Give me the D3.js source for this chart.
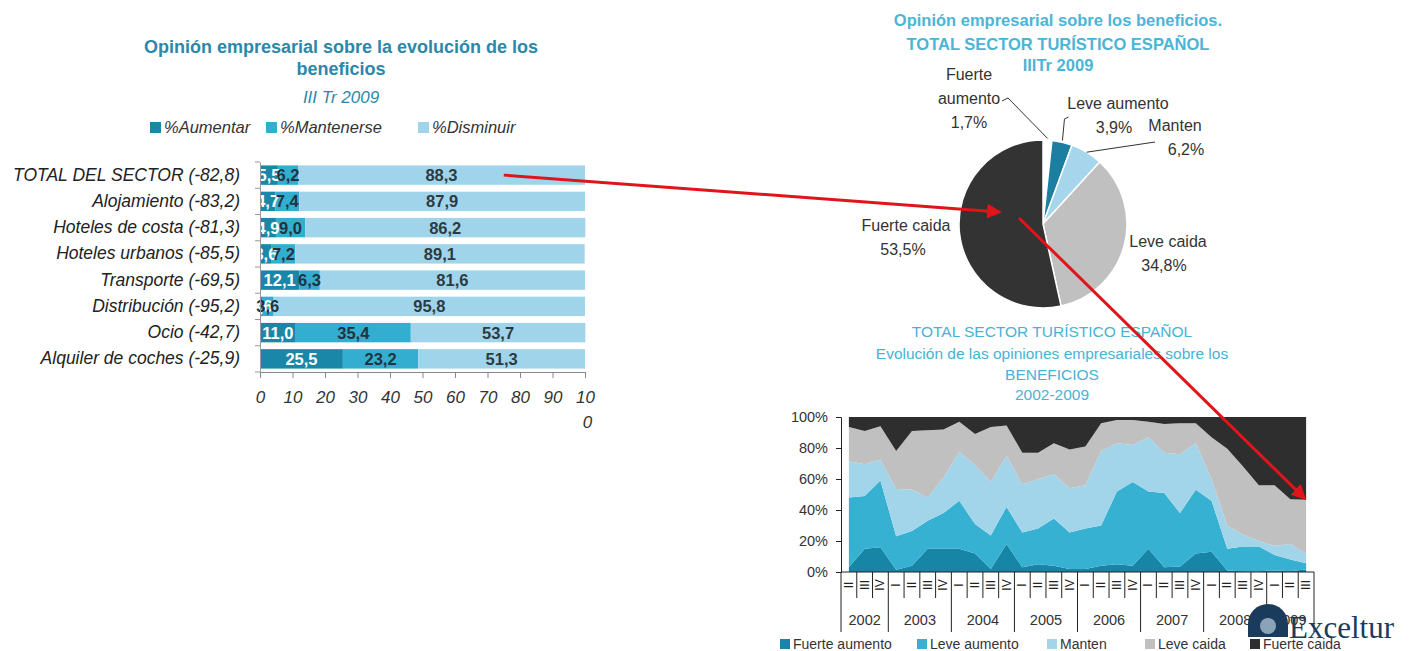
<!DOCTYPE html>
<html>
<head>
<meta charset="utf-8">
<script src="https://cdn.jsdelivr.net/npm/d3@7"></script>
<style>
  body { margin: 0; background: #fff; }
  svg { font-family: "Liberation Sans", Arial, sans-serif; }
</style>
</head>
<body>
<svg id="chart" width="1416" height="651"></svg>
<script>
// ---- bar chart data (III Tr 2009)
var sectores = ["TOTAL DEL SECTOR (-82,8)", "Alojamiento (-83,2)", "Hoteles de costa (-81,3)",
                "Hoteles urbanos (-85,5)", "Transporte (-69,5)", "Distribución (-95,2)",
                "Ocio (-42,7)", "Alquiler de coches (-25,9)"];
var aumentar   = [5.5, 4.7, 4.9, 3.6, 12.1, 0.6, 11.0, 25.5];
var mantenerse = [6.2, 7.4, 9.0, 7.2, 6.3, 3.6, 35.4, 23.2];
var disminuir  = [88.3, 87.9, 86.2, 89.1, 81.6, 95.8, 53.7, 51.3];
var barSeries  = ["%Aumentar", "%Mantenerse", "%Disminuir"];
var barTicks   = [0, 10, 20, 30, 40, 50, 60, 70, 80, 90, 100];

// ---- pie data
var pieLabels = ["Fuerte aumento", "Leve aumento", "Manten", "Leve caida", "Fuerte caida"];
var pieValues = [1.7, 3.9, 6.2, 34.8, 53.5];

// ---- area chart data, 2002 II .. 2009 III
var years    = ["2002", "2003", "2004", "2005", "2006", "2007", "2008", "2009"];
var quarters = ["II", "III", "IV",
                "I", "II", "III", "IV",  "I", "II", "III", "IV",  "I", "II", "III", "IV",
                "I", "II", "III", "IV",  "I", "II", "III", "IV",  "I", "II", "III", "IV",
                "I", "II", "III"];
var fuerteAumento = [3, 15, 16, 1.5, 4, 15, 15, 15, 12, 2, 18, 3, 5, 4, 2,
                     2, 4, 5, 4, 15, 3, 3.5, 12, 13, 1, 0.5, 0.5, 1, 0.5, 1.7];
var leveAumento   = [45, 34, 43, 21.5, 22.5, 18, 23, 31, 19, 21.5, 24, 22.5, 23, 30.5, 23.5,
                     26, 26, 47, 54, 37, 48, 34.5, 41, 33, 14, 16, 16, 10, 7.5, 3.9];
var manten        = [23.5, 20.5, 13.5, 30.5, 26.5, 15, 23, 31.5, 38, 34.5, 33, 31, 32, 28.5, 28.5,
                     28, 48, 31, 24, 35, 26, 38, 30, 14, 15, 7.5, 3.5, 6, 10, 6.2];
var leveCaida     = [22, 21.5, 21.5, 24.5, 38, 43.5, 31, 19.5, 20, 35.5, 19.5, 20.5, 17, 20, 25,
                     25, 18, 15, 16, 10, 18.5, 20, 13, 27, 49.5, 44, 36, 39, 29, 34.8];
var fuerteCaida   = [6.5, 9, 6, 22, 9, 8.5, 8, 3, 11, 6.5, 5.5, 23, 23, 17, 21,
                     19, 4, 2, 2, 3, 4.5, 4, 4, 13, 20.5, 32, 44, 44, 53, 53.5];
var areaTicks = [0, 0.2, 0.4, 0.6, 0.8, 1];

var svg = d3.select("#chart");
var comma = function(v) { return d3.format(".1f")(v).replace(".", ","); };

svg.append("defs").append("marker")
    .attr("id", "head").attr("viewBox", "0 0 10 10")
    .attr("refX", 8).attr("refY", 5)
    .attr("markerWidth", 5).attr("markerHeight", 5)
    .attr("orient", "auto")
  .append("path").attr("d", "M0,0L10,5L0,10z").attr("fill", "#e0141a");

// ================= bar chart =================
var titleCol = "#2b88aa";
var bt = svg.append("g").attr("fill", titleCol).attr("text-anchor", "middle");
bt.append("text").attr("x", 341).attr("y", 53).attr("font-size", 18).attr("font-weight", "bold")
  .text("Opinión empresarial sobre la evolución de los");
bt.append("text").attr("x", 341).attr("y", 75).attr("font-size", 18).attr("font-weight", "bold")
  .text("beneficios");
bt.append("text").attr("x", 341).attr("y", 103).attr("font-size", 17).attr("font-style", "italic")
  .text("III Tr 2009");

var barCol = d3.scaleOrdinal().domain(barSeries).range(["#1a86a8", "#34aed0", "#a0d4eb"]);
var legX = [150, 266, 418];
var leg = svg.append("g").selectAll("g").data(barSeries).join("g")
    .attr("transform", function(d, i) { return "translate(" + legX[i] + ",122)"; });
leg.append("rect").attr("width", 11).attr("height", 11).attr("fill", function(d) { return barCol(d); });
leg.append("text").attr("x", 14).attr("y", 11).attr("font-size", 16.5).attr("font-style", "italic")
  .attr("fill", "#333").text(function(d) { return d; });

var x = d3.scaleLinear().domain([0, 100]).range([260, 585]);
var y = d3.scaleBand().domain(sectores).range([162, 372]).paddingInner(0.26).paddingOuter(0.13);

var rows = sectores.map(function(s, i) {
  return { sector: s, "%Aumentar": aumentar[i], "%Mantenerse": mantenerse[i], "%Disminuir": disminuir[i] };
});
var stacked = d3.stack().keys(barSeries)(rows);

var layers = svg.append("g").selectAll("g").data(stacked).join("g")
    .attr("fill", function(d) { return barCol(d.key); });
layers.selectAll("rect").data(function(d) { return d; }).join("rect")
    .attr("x", function(d) { return x(d[0]); })
    .attr("y", function(d) { return y(d.data.sector); })
    .attr("width", function(d) { return x(d[1]) - x(d[0]); })
    .attr("height", y.bandwidth());

var labCol = { "%Aumentar": "#ffffff", "%Mantenerse": "#1f3440", "%Disminuir": "#2d3a40" };
stacked.forEach(function(layer) {
  svg.append("g").selectAll("text").data(layer).join("text")
      .attr("x", function(d) { return x((d[0] + d[1]) / 2); })
      .attr("y", function(d) { return y(d.data.sector) + y.bandwidth() / 2 + 6; })
      .attr("text-anchor", "middle").attr("font-size", 16.5).attr("font-weight", "bold")
      .attr("fill", labCol[layer.key])
      .text(function(d) { return comma(d[1] - d[0]); });
});

var yAx = svg.append("g").attr("transform", "translate(260,0)")
    .call(d3.axisLeft(y).tickSize(0).tickPadding(20));
yAx.select(".domain").attr("stroke", "#999");
yAx.selectAll(".tick text").attr("font-size", 17.5).attr("font-style", "italic").attr("fill", "#222");
// category separators
svg.append("g").selectAll("line").data(sectores.concat([null])).join("line")
    .attr("x1", 255).attr("x2", 260)
    .attr("y1", function(d, i) { return 162 + i * y.step(); })
    .attr("y2", function(d, i) { return 162 + i * y.step(); })
    .attr("stroke", "#999");

var xAx = svg.append("g").attr("transform", "translate(0,372)")
    .call(d3.axisBottom(x).tickValues(barTicks).tickSize(6).tickSizeOuter(6).tickPadding(13));
xAx.selectAll("line, .domain").attr("stroke", "#888");
xAx.selectAll(".tick text").attr("font-size", 17).attr("font-style", "italic").attr("fill", "#333")
    .each(function(d) {
      if (d === 100) {
        var t = d3.select(this).text("");
        t.append("tspan").attr("x", 0).text("10");
        t.append("tspan").attr("x", 2).attr("dy", "1.45em").text("0");
      }
    });

// ================= pie =================
var pieTitleCol = "#4cb5d6";
var pt = svg.append("g").attr("fill", pieTitleCol).attr("text-anchor", "middle")
    .attr("font-size", 16.5).attr("font-weight", "bold");
pt.append("text").attr("x", 1058).attr("y", 26).text("Opinión empresarial sobre los beneficios.");
pt.append("text").attr("x", 1058).attr("y", 50).text("TOTAL SECTOR TURÍSTICO ESPAÑOL");
pt.append("text").attr("x", 1058).attr("y", 71).text("IIITr 2009");

var cx = 1043, cy = 224, r = 84;
var pieCol = d3.scaleOrdinal().domain(pieLabels)
    .range(["#ffffff", "#1c7fa2", "#a6d6ec", "#c0c0c0", "#333333"]);
var arcs = d3.pie().sort(null)(pieValues);
var arc = d3.arc().innerRadius(0).outerRadius(r);
var pg = svg.append("g").attr("transform", "translate(" + cx + "," + cy + ")");
pg.selectAll("path").data(arcs).join("path")
    .attr("d", arc)
    .attr("fill", function(d, i) { return pieCol(pieLabels[i]); })
    .attr("stroke", "#fff").attr("stroke-width", 1.5);

// label placement (relative to pie centre): first line centre, shift of the value line
var labPos = [[-74, -144, 0], [75, -115, -4], [132, -93, 11], [125, 23, -4], [-137, 7, -3]];
var labLines = [["Fuerte", "aumento", "1,7%"], ["Leve aumento", "3,9%"], ["Manten", "6,2%"],
                ["Leve caida", "34,8%"], ["Fuerte caida", "53,5%"]];
var lg = pg.append("g").attr("font-size", 16).attr("fill", "#333").attr("text-anchor", "middle");
arcs.forEach(function(a, i) {
  var t = lg.append("text").attr("y", labPos[i][1]);
  labLines[i].forEach(function(s, k) {
    var last = k === labLines[i].length - 1 && k > 0;
    t.append("tspan").attr("x", labPos[i][0] + (last ? labPos[i][2] : 0))
      .attr("dy", k === 0 ? 0 : "1.5em").text(s);
  });
});
var edge = function(a, k) {
  var m = (a.startAngle + a.endAngle) / 2;
  return [Math.sin(m) * r * k, -Math.cos(m) * r * k];
};
var e0 = edge(arcs[0], 1.02), e1 = edge(arcs[1], 1.02), e2 = edge(arcs[2], 1.0);
var lead = pg.append("g").attr("fill", "none").attr("stroke", "#333");
lead.append("path").attr("d", "M-41,-123L-35,-126L" + e0[0] + "," + e0[1]);
lead.append("path").attr("d", "M" + (e1[0] + 6) + ",-107L" + (e1[0] + 2) + ",-105L" + e1[0] + "," + e1[1]);
lead.append("path").attr("d", "M" + e2[0] + "," + e2[1] + "L112,-82");

// ================= area chart =================
var at = svg.append("g").attr("fill", "#48b2d4").attr("text-anchor", "middle").attr("font-size", 15.5);
at.append("text").attr("x", 1052).attr("y", 337).text("TOTAL SECTOR TURÍSTICO ESPAÑOL");
at.append("text").attr("x", 1052).attr("y", 359).text("Evolución de las opiniones empresariales sobre los");
at.append("text").attr("x", 1052).attr("y", 380).text("BENEFICIOS");
at.append("text").attr("x", 1052).attr("y", 400).text("2002-2009");

var areaKeys = ["Fuerte aumento", "Leve aumento", "Manten", "Leve caida", "Fuerte caida"];
var areaCol = d3.scaleOrdinal().domain(areaKeys)
    .range(["#1786a6", "#36b1d2", "#a3d5ea", "#c0c0c0", "#2e2e2e"]);
var periods = quarters.map(function(q, i) {
  return { i: i, "Fuerte aumento": fuerteAumento[i], "Leve aumento": leveAumento[i],
           "Manten": manten[i], "Leve caida": leveCaida[i], "Fuerte caida": fuerteCaida[i] };
});
var aStack = d3.stack().keys(areaKeys).offset(d3.stackOffsetExpand)(periods);

var xb = d3.scaleBand().domain(d3.range(quarters.length)).range([841, 1314]);
var ya = d3.scaleLinear().domain([0, 1]).range([572, 417]);
var area = d3.area()
    .x(function(d) { return xb(d.data.i) + xb.bandwidth() / 2; })
    .y0(function(d) { return ya(d[0]); })
    .y1(function(d) { return ya(d[1]); });
svg.append("g").selectAll("path").data(aStack).join("path")
    .attr("d", area).attr("fill", function(d) { return areaCol(d.key); });

var yaAx = svg.append("g").attr("transform", "translate(841,0)")
    .call(d3.axisLeft(ya).tickValues(areaTicks).tickFormat(d3.format(".0%"))
      .tickSize(5).tickSizeOuter(5).tickPadding(8));
yaAx.selectAll("line, .domain").attr("stroke", "#222");
yaAx.selectAll(".tick text").attr("font-size", 14.5).attr("fill", "#333");

// category axis: quarters and years
var ca = svg.append("g");
ca.append("line").attr("x1", 841).attr("x2", 1314).attr("y1", 572).attr("y2", 572).attr("stroke", "#222");
var yearStart = quarters.map(function(q, i) { return q === "I" || i === 0; });
ca.selectAll("line.q").data(d3.range(quarters.length + 1)).join("line").attr("class", "q")
    .attr("x1", function(i) { return 841 + i * xb.step(); })
    .attr("x2", function(i) { return 841 + i * xb.step(); })
    .attr("y1", 572)
    .attr("y2", function(i) { return (i === quarters.length || yearStart[i]) ? 632 : 598; })
    .attr("stroke", "#222");
ca.selectAll("text.q").data(quarters).join("text").attr("class", "q")
    .attr("transform", function(q, i) {
      return "translate(" + (xb(i) + xb.bandwidth() / 2 + 4) + ",585) rotate(-90)";
    })
    .attr("text-anchor", "middle").attr("font-size", 12).attr("fill", "#222")
    .text(function(q) { return q; });
var starts = [];
quarters.forEach(function(q, i) { if (yearStart[i]) starts.push(i); });
ca.selectAll("text.y").data(years).join("text").attr("class", "y")
    .attr("x", function(yr, k) {
      var a = starts[k], b = k + 1 < starts.length ? starts[k + 1] : quarters.length;
      return 841 + (a + b) / 2 * xb.step();
    })
    .attr("y", 625).attr("text-anchor", "middle").attr("font-size", 14.5).attr("fill", "#333")
    .text(function(yr) { return yr; });

// Exceltur mark (drawn under the legend)
var lo = svg.append("g");
lo.append("path").attr("d", "M1248,637L1248,624A20,20 0 0 1 1288,624L1288,637Z").attr("fill", "#1b3b5d");
lo.append("circle").attr("cx", 1268).attr("cy", 626).attr("r", 8).attr("fill", "#8aa3b8");
lo.append("text").attr("x", 1289).attr("y", 638).attr("font-family", "'Liberation Serif', serif")
    .attr("font-size", 31).attr("fill", "#1b3b5d").text("Exceltur");

// legend
var alX = [780, 917, 1047, 1145, 1250];
var al = svg.append("g").selectAll("g").data(areaKeys).join("g")
    .attr("transform", function(d, i) { return "translate(" + alX[i] + ",639)"; });
al.append("rect").attr("width", 10).attr("height", 10).attr("fill", function(d) { return areaCol(d); });
al.append("text").attr("x", 13).attr("y", 10).attr("font-size", 14).attr("fill", "#333")
    .text(function(d) { return d; });

// ================= red annotation arrows =================
var red = svg.append("g").attr("stroke", "#e0141a").attr("stroke-width", 3).attr("fill", "none")
    .attr("marker-end", "url(#head)");
var yTot = y(sectores[0]) + y.bandwidth() / 2;
red.append("line").attr("x1", x(75)).attr("y1", yTot).attr("x2", cx - 44).attr("y2", cy - 12);
var lastPt = aStack[3][quarters.length - 1];
red.append("line").attr("x1", cx - 24).attr("y1", cy - 6)
    .attr("x2", xb(quarters.length - 1) + xb.bandwidth() / 2 - 2).attr("y2", ya(lastPt[1]) - 2);
</script>
</body>
</html>
